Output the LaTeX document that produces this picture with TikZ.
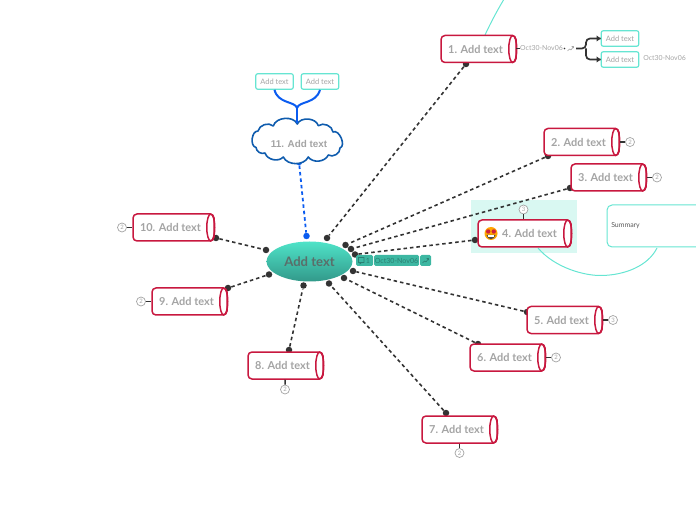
\documentclass[tikz,border=0pt]{standalone}
\usepackage{fontspec}
\setmainfont{Lato}
\newfontfamily\cloudfont{Liberation Sans}
\usetikzlibrary{shapes.geometric,arrows.meta}
\newdimen\px \px=0.75pt
\definecolor{cylred}{HTML}{C8183F}
\definecolor{txtgrey}{HTML}{A4A4A4}
\definecolor{aqua}{HTML}{66E5D2}
\definecolor{linedark}{HTML}{333333}
\definecolor{bluedot}{HTML}{0B5CF0}
\definecolor{cloudblue}{HTML}{0F5CAE}
\definecolor{tagteal}{HTML}{3DB7A2}
\definecolor{tagtxt}{HTML}{2B7F72}
\definecolor{highlight}{HTML}{D9F8F2}
\definecolor{roottop}{HTML}{4FE3C8}
\definecolor{rootbot}{HTML}{32998A}
\definecolor{roottxt}{HTML}{5A6E6A}
\tikzset{
  x=0.75pt,y=-0.75pt,
  cylbox/.style={draw=cylred,line width=1.5\px,rounded corners=4\px,fill=white,minimum height=27\px,inner sep=0pt,text=txtgrey,font=\fontsize{8.2}{10}\selectfont\bfseries},
  cylcap/.style={draw=cylred,line width=1.5\px},
  anchordot/.style={circle,fill=linedark,draw=none,minimum size=6.5\px,inner sep=0pt},
  bluepoint/.style={circle,fill=bluedot,draw=none,minimum size=6.5\px,inner sep=0pt},
  conn/.style={draw=linedark,line width=1.6\px,dash pattern=on 3.5\px off 3\px},
  blueconn/.style={draw=bluedot,line width=1.8\px,dash pattern=on 3.5\px off 3\px},
  badge/.style={circle,draw=txtgrey,fill=white,line width=0.7\px,minimum size=9\px,inner sep=0pt,text=txtgrey,font=\fontsize{4.5}{5}\selectfont},
  stem/.style={draw=linedark,line width=1.5\px},
  leafbox/.style={draw=aqua,line width=1.2\px,rounded corners=2\px,fill=white,minimum width=37.5\px,minimum height=15.5\px,inner sep=0pt,text=txtgrey,font=\fontsize{5.6}{6}\selectfont},
  meta/.style={text=txtgrey,inner sep=0pt,font=\fontsize{5.2}{6}\selectfont},
  tagbox/.style={fill=tagteal,rounded corners=1.5\px,minimum height=11\px,inner sep=0pt,text=tagtxt,font=\fontsize{5.3}{6}\selectfont},
}
\newcommand{\cyl}[5]{%
  \node[cylbox,minimum width=#4\px] (#1) at (#2,#3) {#5\kern6\px};
  \draw[cylcap] ([xshift=-4\px]#1.east) ellipse (4 and 13.5);
}
\newcommand{\trendicon}[3]{%
  \draw[#3,line width=0.6\px,line join=round] (#1-3,#2+2.5) -- (#1-1,#2+0.5) -- (#1+0.5,#2+1.5) -- (#1+3,#2-2) (#1+1.2,#2-2) -- (#1+3,#2-2) -- (#1+3,#2-0.4);
}
\begin{document}
\begin{tikzpicture}
\useasboundingbox (0,0) rectangle (696,520);
% highlight of topic 4
\fill[highlight] (471,200) rectangle (577,253);
% thin links
\draw[aqua,line width=1\px] (485,35) .. controls (491,22) and (497,11) .. (503.5,0);
\draw[aqua,line width=1\px] (538,248) .. controls (555,268) and (585,276) .. (602,275.5) .. controls (625,275) and (648,266) .. (657,248);
% summary
\begin{scope}
\clip (600,195) rectangle (696,255);
\node[draw=aqua,line width=1\px,rounded corners=5\px,fill=white,minimum width=110\px,minimum height=42\px,inner sep=0pt] (summarybox) at (662,226) {};
\end{scope}
\node[anchor=west,inner sep=0pt,text=black!65,font=\fontsize{5.2}{6}\selectfont] (summary) at (611,226) {Summary};
% connector end dots
\node[anchordot] (a1) at (466,64) {}; \node[anchordot] (b1) at (327,238) {};
\node[anchordot] (a2) at (548,156) {}; \node[anchordot] (b2) at (345.5,245) {};
\node[anchordot] (a3) at (570,188) {}; \node[anchordot] (b3) at (351,249) {};
\node[anchordot] (a4) at (475,240) {}; \node[anchordot] (b4) at (355,254.5) {};
\node[anchordot] (a5) at (527,312) {}; \node[anchordot] (b5) at (353,271) {};
\node[anchordot] (a6) at (478,344) {}; \node[anchordot] (b6) at (344,278) {};
\node[anchordot] (a7) at (446,413) {}; \node[anchordot] (b7) at (329,283.5) {};
\node[anchordot] (a8) at (289,350) {}; \node[anchordot] (b8) at (303.5,285.5) {};
\node[anchordot] (a9) at (228,288) {}; \node[anchordot] (b9) at (269,274.5) {};
\node[anchordot] (a10) at (216,238) {}; \node[anchordot] (b10) at (266,250) {};
\node[bluepoint] (a11) at (299,162) {}; \node[bluepoint] (b11) at (306.5,236) {};
\foreach \i in {1,...,10} {\draw[conn] (a\i) -- (b\i);}
\draw[blueconn] (a11) -- (b11);
% central topic
\node[ellipse,minimum width=86\px,minimum height=40\px,inner sep=0pt,top color=roottop,bottom color=rootbot,text=roottxt,font=\fontsize{9.8}{11}\selectfont\bfseries] (root) at (309.5,261.5) {Add text};
\node[tagbox,minimum width=17\px] (tagc) at (364.5,260.5) {\hspace{7\px}1};
\draw[tagtxt,line width=0.6\px] (358.5,257.5) rectangle (364,262.5) (360,262.5) -- (360,264) -- (361.5,262.5);
\node[tagbox,minimum width=45\px] (tagd) at (396.5,260.5) {Oct30-Nov06};
\node[tagbox,minimum width=11\px] (tagt) at (425.5,260.5) {};
\trendicon{425.5}{260.5}{tagtxt}
% topics
\cyl{t1}{478.5}{49}{75}{1. Add text}
\cyl{t2}{581.5}{142}{75}{2. Add text}
\cyl{t3}{608.5}{177.5}{75}{3. Add text}
\cyl{t4}{524.5}{233.5}{93}{\hspace{16\px}4. Add text}
\cyl{t5}{564.5}{320}{75}{5. Add text}
\cyl{t6}{507.5}{357.5}{75}{6. Add text}
\cyl{t7}{459.5}{429.5}{75}{7. Add text}
\cyl{t8}{285.5}{365.5}{75}{8. Add text}
\cyl{t9}{189.5}{301.5}{75}{9. Add text}
\cyl{t10}{173.5}{227.5}{81}{10. Add text}
% emoji on topic 4
\fill[orange!70!yellow] (491,233.5) circle (6.5);
\fill[cylred!90!orange] (488.2,231.5) circle (2.2) (493.8,231.5) circle (2.2);
\fill[black!70] (486.5,235) .. controls (488,240.5) and (494,240.5) .. (495.5,235) -- cycle;
\fill[white] (487.6,235.5) rectangle (494.4,236.8);
% badges
\node[badge] (c2) at (630,142) {2}; \draw[stem] (t2) -- (c2);
\node[badge] (c3) at (657,177.5) {2}; \draw[stem] (t3) -- (c3);
\node[badge] (c4) at (523.5,209.5) {3}; \draw[stem] (c4) -- (c4 |- t4.north);
\node[badge] (c5) at (613,320) {3}; \draw[stem] (t5) -- (c5);
\node[badge] (c6) at (556,357.5) {2}; \draw[stem] (t6) -- (c6);
\node[badge] (c7) at (459.5,453) {2}; \draw[stem] (t7) -- (c7);
\node[badge] (c8) at (285,389.5) {2}; \draw[stem] (t8) -- (c8);
\node[badge] (c9) at (141,301.5) {2}; \draw[stem] (c9) -- (t9);
\node[badge] (c10) at (122,227.5) {2}; \draw[stem] (c10) -- (t10);
% topic 1 details
\node[meta] (date1) at (541.5,48.5) {Oct30-Nov06};
\draw[linedark,line width=0.7\px] (516,48.5) -- (date1.west);
\node[inner sep=0.5pt] (tr1) at (570.5,48.5) {};
\trendicon{570.5}{48.5}{txtgrey}
\fill[linedark] (564.5,48.5) circle (0.8);
\node[leafbox] (l1) at (620,38.5) {Add text};
\node[leafbox] (l2) at (620,59.5) {Add text};
\coordinate (br1) at (586,48.5);
\draw[linedark,line width=1.7\px,rounded corners=4\px] (576,48.5) -- (br1) |- (l1.west);
\draw[linedark,line width=1.7\px,rounded corners=4\px] (br1) |- (l2.west);
\fill[linedark] (l1.west) -- ++(-4,-3) -- ++(0,6) -- cycle;
\fill[linedark] (l2.west) -- ++(-4,-3) -- ++(0,6) -- cycle;
\node[meta,anchor=west] (date2) at (643,58.5) {Oct30-Nov06};
% cloud
\draw[cloudblue,line width=1.6\px,fill=white,line join=round]
  (256,147.5) to[bend left=85] (258,131)
  to[bend left=60] (273.3,126)
  to[bend left=70] (297.3,124)
  to[bend left=70] (318.3,125.7)
  to[bend left=60] (333,132)
  to[bend left=95] (340,148)
  to[bend left=65] (328.3,155)
  to[bend left=60] (308.3,157)
  to[bend left=65] (283.3,157)
  to[bend left=60] (265,153)
  to[bend left=55] cycle;
\node[inner sep=0pt,text=txtgrey,font=\cloudfont\fontsize{7.4}{9}\selectfont\bfseries] (cloud11) at (299,143.5) {11. Add text};
\node[leafbox] (l3) at (274.5,81.5) {Add text};
\node[leafbox] (l4) at (320,81.5) {Add text};
\coordinate (br2) at (297,108);
\draw[bluedot,line width=2\px] (297,123) -- (br2);
\draw[bluedot,line width=2\px] (br2) .. controls (295,101) and (278,104) .. (l3.south);
\draw[bluedot,line width=2\px] (br2) .. controls (299,101) and (316,104) .. (l4.south);
\end{tikzpicture}
\end{document}
